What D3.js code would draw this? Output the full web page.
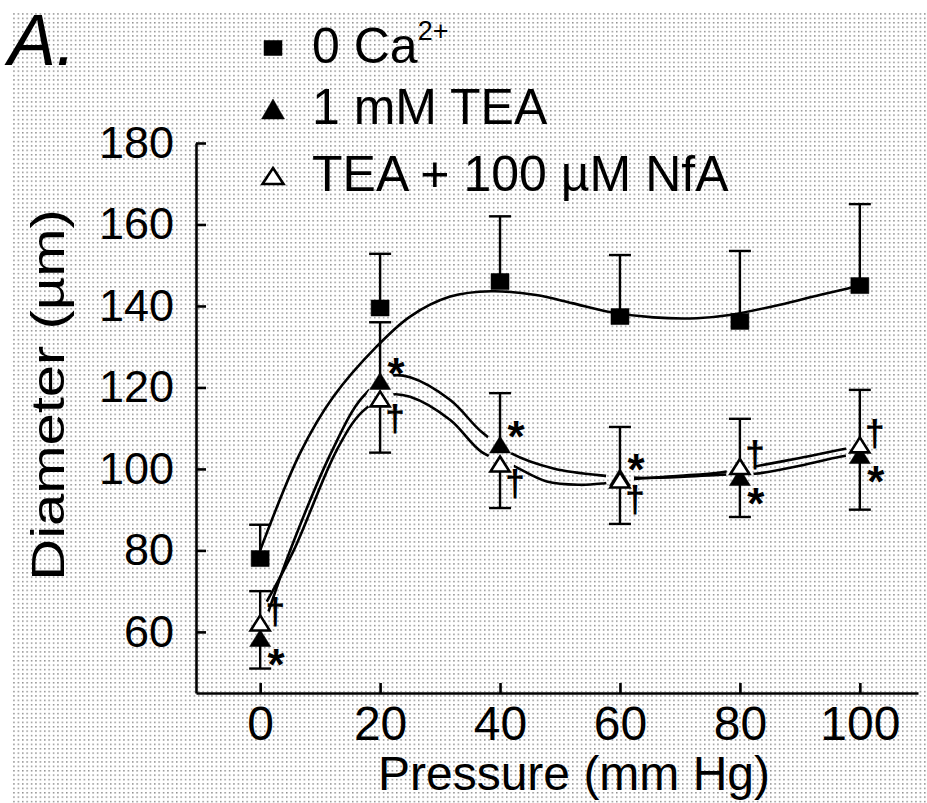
<!DOCTYPE html>
<html>
<head>
<meta charset="utf-8">
<script src="https://cdn.jsdelivr.net/npm/d3@7"></script>
<style>
  body { margin: 0; background: #fff; }
  svg text { font-family: "Liberation Sans", Arial, sans-serif; fill: #000; }
</style>
</head>
<body>
<div class="chart"></div>
<script>
// values (pressure in mm Hg, diameter in um)
const pressure = [0, 20, 40, 60, 80, 100];
const ca0 = [78, 139.5, 146, 137.4, 136.2, 145];
const ca0Err = [86.3, 152.8, 162, 152.5, 153.5, 165];
const tea = [58.5, 121.6, 106, 98, 98, 103.4];
const teaErr = [51, 136, 118.6, 110.3, 88.2, 90];
const nfa = [62.2, 117.2, 101.2, 97.3, 100.6, 105.9];
const nfaErr = [70, 104, 90.4, 86.5, 112.3, 119.4];

// smooth fitted curves as drawn in the figure
const ca0Fit = [[0,80],[6.7,104],[12.2,117.7],[19.4,130],[25,137.4],[31.7,142.3],[38.5,143.6],[46,142.7],[52,140.7],[58,138.6],[65.6,137.2],[72.8,137],[78.3,137.8],[86.7,140.3],[93.3,142.7],[98,144.3],[100,145]];
const teaFit = [[1.3,64.6],[5,80],[12,104.5],[17,117.5],[21.7,122.8],[25,122.5],[31.7,116.9],[36.9,109.1],[41.9,103.8],[48.9,100.1],[57.5,98.3],[63,97.8],[70,98],[77,98.6],[82.5,98.8],[90,100.8],[96.7,103],[100,103.8]];
const nfaFit = [[1.1,67.4],[5.6,80],[12.8,104.7],[17,114],[21.7,118.2],[25,117.7],[31.7,112],[36.9,104.2],[41.9,101],[47.8,96.9],[53.3,96.1],[57.5,96.5],[63,97.6],[70,98.3],[77,99.2],[82.5,100.6],[90,102.7],[96.7,104.7],[100,105.5]];

const teaMark = "*";   // significance vs 0 Ca
const nfaMark = "\u2020";
const xTicks = [0, 20, 40, 60, 80, 100];
const yTicks = [60, 80, 100, 120, 140, 160, 180];

const outerWidth = 927, outerHeight = 803;

const svg = d3.select(".chart").append("svg")
    .attr("width", outerWidth)
    .attr("height", outerHeight);

// halftone-like dotted background
const defs = svg.append("defs");
defs.append("pattern")
    .attr("id", "dots")
    .attr("patternUnits", "userSpaceOnUse")
    .attr("width", 4.4).attr("height", 4.4)
  .append("rect")
    .attr("width", 1.5).attr("height", 1.5)
    .attr("fill", "#8f8f8f");

svg.append("rect").attr("width", outerWidth).attr("height", outerHeight).attr("fill", "#fff");
svg.append("rect")
    .attr("x", 12).attr("y", 13)
    .attr("width", outerWidth - 12).attr("height", outerHeight - 13)
    .attr("fill", "url(#dots)");

const xScale = d3.scaleLinear().domain([-10.7, 109.7]).range([196, 918]);
const yScale = d3.scaleLinear().domain([45, 180]).range([693, 143]);

// axes, ticks pointing inwards
const yAxis = d3.axisLeft(yScale).tickValues(yTicks).tickSizeInner(-10).tickSizeOuter(0).tickPadding(22);
const xAxis = d3.axisBottom(xScale).tickValues(xTicks).tickSizeInner(-10).tickSizeOuter(0).tickPadding(13);

const gy = svg.append("g").attr("transform", `translate(${xScale.range()[0]},0)`).call(yAxis);
const gx = svg.append("g").attr("transform", `translate(0,${yScale.range()[0]})`).call(xAxis);

[gx, gy].forEach(g => {
  g.selectAll("path, line").attr("stroke", "#000").attr("stroke-width", 2.6);
  g.selectAll("text").attr("font-family", "Liberation Sans, Arial, sans-serif").attr("fill", "#000");
});
gy.selectAll("text").attr("font-size", 45);
gx.selectAll("text").attr("font-size", 48);

// axis titles
svg.append("text")
    .attr("x", 574).attr("y", 790)
    .attr("text-anchor", "middle")
    .attr("font-size", 48)
    .text("Pressure (mm Hg)");

svg.append("text")
    .attr("transform", "translate(64,395) rotate(-90) scale(1.26,1)")
    .attr("text-anchor", "middle")
    .attr("font-size", 46)
    .text("Diameter (\u00b5m)");

svg.append("text")
    .attr("x", 8).attr("y", 65)
    .attr("font-size", 72)
    .attr("font-style", "italic")
    .text("A.");

// marker shapes
const tri = (w, h) => `M0,${-h / 2}L${w / 2},${h / 2}L${-w / 2},${h / 2}Z`;
const sq = (w, h) => `M${-w / 2},${-h / 2}h${w}v${h}h${-w}Z`;

// mask so the TEA curves stop short of the triangles
const mask = defs.append("mask").attr("id", "triGap");
mask.append("rect").attr("width", outerWidth).attr("height", outerHeight).attr("fill", "#fff");
pressure.forEach((p, i) => {
  [tea[i], nfa[i]].forEach(v => {
    mask.append("circle").attr("cx", xScale(p)).attr("cy", yScale(v)).attr("r", 14).attr("fill", "#000");
  });
});

const line = d3.line()
    .x(d => xScale(d[0]))
    .y(d => yScale(d[1]))
    .curve(d3.curveCatmullRom.alpha(0.5));

svg.append("path").datum(ca0Fit).attr("d", line)
    .attr("fill", "none").attr("stroke", "#000").attr("stroke-width", 2.6);

const tGroup = svg.append("g").attr("mask", "url(#triGap)");
[teaFit, nfaFit].forEach(f => {
  tGroup.append("path").datum(f).attr("d", line)
      .attr("fill", "none").attr("stroke", "#000").attr("stroke-width", 2.6);
});

// error bars (one sided)
function errorBars(vals, ends) {
  const g = svg.append("g").attr("stroke", "#000").attr("stroke-width", 2.4);
  pressure.forEach((p, i) => {
    const x = xScale(p);
    g.append("line").attr("x1", x).attr("x2", x).attr("y1", yScale(vals[i])).attr("y2", yScale(ends[i]));
    g.append("line").attr("x1", x - 11).attr("x2", x + 11).attr("y1", yScale(ends[i])).attr("y2", yScale(ends[i]));
  });
}
errorBars(ca0, ca0Err);
errorBars(tea, teaErr);
errorBars(nfa, nfaErr);

// markers
function markers(vals, d, fill) {
  svg.append("g").selectAll("path")
    .data(pressure)
    .join("path")
      .attr("transform", (p, i) => `translate(${xScale(p)},${yScale(vals[i])})`)
      .attr("d", d)
      .attr("fill", fill)
      .attr("stroke", "#000")
      .attr("stroke-width", fill === "#000" ? 0.5 : 2.6)
      .attr("stroke-linejoin", "miter");
}
markers(ca0, sq(18, 16), "#000");
markers(tea, tri(21, 17), "#000");
markers(nfa, tri(19, 15), "#fff");

// significance symbols: placed on the side away from the other TEA series
pressure.forEach((p, i) => {
  const x = xScale(p) + 16;
  const teaUp = tea[i] > nfa[i];
  const ys = yScale(tea[i]) + (teaUp ? -16 : 18);
  svg.append("text").attr("x", x).attr("y", ys + 24)
      .attr("text-anchor", "middle").attr("font-size", 44).attr("font-weight", "bold")
      .text(teaMark);
  const yd = yScale(nfa[i]) + (teaUp ? 22 : -9);
  svg.append("text").attr("x", x - 1).attr("y", yd + 10)
      .attr("text-anchor", "middle").attr("font-size", 36).attr("font-weight", "bold")
      .text(nfaMark);
});

// legend
const legendItems = [
  { d: sq(18, 15), fill: "#000", cy: 48, label: "0 Ca" },
  { d: tri(23, 20), fill: "#000", cy: 109, label: "1 mM TEA" },
  { d: tri(21, 16), fill: "#fff", cy: 176, label: "TEA + 100 \u00b5M NfA" }
];
const legend = svg.append("g");
legendItems.forEach((it, i) => {
  legend.append("path")
      .attr("transform", `translate(${273},${it.cy})`)
      .attr("d", it.d)
      .attr("fill", it.fill)
      .attr("stroke", "#000")
      .attr("stroke-width", it.fill === "#000" ? 0.5 : 2.6);
  const t = legend.append("text")
      .attr("x", 312).attr("y", it.cy + 15)
      .attr("font-size", 50)
      .text(it.label);
  if (i === 0) {
    t.append("tspan").attr("dy", -23).attr("font-size", 27).text("2+");
  }
});
</script>
</body>
</html>
